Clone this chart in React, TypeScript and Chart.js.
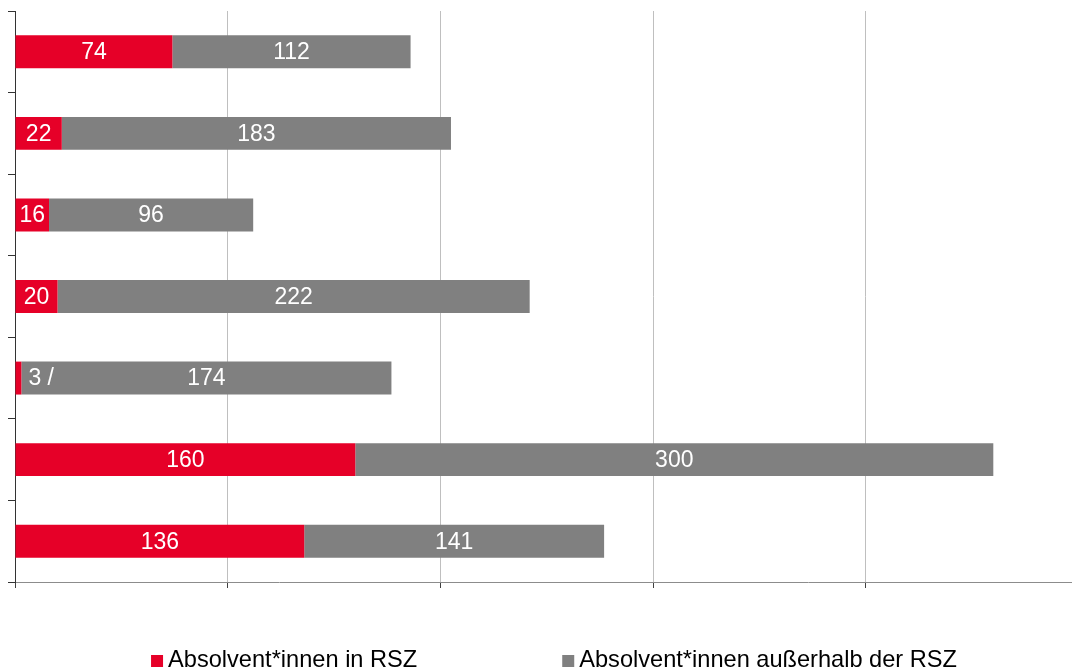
import React, { useEffect, useRef } from "react";
import { Chart, registerables } from "chart.js";

Chart.register(...registerables);

const categories = ["1", "2", "3", "4", "5", "6", "7"];
const insideRSZ = [74, 22, 16, 20, 3, 160, 136];
const outsideRSZ = [112, 183, 96, 222, 174, 300, 141];
const insideLabels = ["74", "22", "16", "20", "3 /", "160", "136"];
const outsideLabels = ["112", "183", "96", "222", "174", "300", "141"];
const seriesNames = ["Absolvent*innen in RSZ", "Absolvent*innen außerhalb der RSZ"];
const xTicks = [0, 100, 200, 300, 400];

const RED = "#e60028";
const GREY = "#808080";
const FONT = "'Liberation Sans', Arial, sans-serif";

const labelPlugin = {
  id: "segLabels",
  afterDatasetsDraw(chart: any) {
    const ctx = chart.ctx;
    ctx.save();
    ctx.font = `23px ${FONT}`;
    ctx.fillStyle = "#ffffff";
    ctx.textBaseline = "middle";
    const labelSets = [insideLabels, outsideLabels];
    chart.data.datasets.forEach((_ds: any, di: number) => {
      const meta = chart.getDatasetMeta(di);
      meta.data.forEach((el: any, i: number) => {
        const txt = labelSets[di][i];
        const w = ctx.measureText(txt).width;
        const segW = Math.abs(el.x - el.base);
        if (segW < w) {
          ctx.textAlign = "left";
          ctx.fillText(txt, el.x + 7, el.y + 1);
        } else {
          ctx.textAlign = "center";
          ctx.fillText(txt, (el.x + el.base) / 2, el.y + 1);
        }
      });
    });
    ctx.restore();
  },
};

const legendPlugin = {
  id: "customLegend",
  afterDraw(chart: any) {
    const ctx = chart.ctx;
    ctx.save();
    ctx.font = `23.6px ${FONT}`;
    ctx.textBaseline = "alphabetic";
    ctx.textAlign = "left";
    const box = 12;
    const gapBox = 5;
    const gapItems = 145;
    const items = chart.data.datasets.map((ds: any) => ({
      label: ds.label,
      color: ds.backgroundColor,
      w: box + gapBox + ctx.measureText(ds.label).width,
    }));
    const total = items.reduce((s: number, it: any) => s + it.w, 0) + gapItems * (items.length - 1);
    let x = chart.width / 2 + 18 - total / 2;
    const baseY = 667;
    items.forEach((it: any) => {
      ctx.fillStyle = it.color;
      ctx.fillRect(x, baseY - 12, box, box);
      ctx.fillStyle = "#000000";
      ctx.fillText(it.label, x + box + gapBox, baseY);
      x += it.w + gapItems;
    });
    ctx.restore();
  },
};

export default function App() {
  const ref = useRef<HTMLCanvasElement | null>(null);
  useEffect(() => {
    if (!ref.current) return;
    const chart = new Chart(ref.current, {
      type: "bar",
      data: {
        labels: categories,
        datasets: [
          { label: seriesNames[0], data: insideRSZ, backgroundColor: RED, borderWidth: 0 },
          { label: seriesNames[1], data: outsideRSZ, backgroundColor: GREY, borderWidth: 0 },
        ],
      },
      options: {
        indexAxis: "y",
        animation: false,
        responsive: false,
        maintainAspectRatio: false,
        layout: { padding: { left: 8, top: 11, right: 0, bottom: 84 } },
        datasets: { bar: { categoryPercentage: 1, barPercentage: 0.404 } },
        plugins: { legend: { display: false }, tooltip: { enabled: false } },
        scales: {
          x: {
            type: "linear",
            stacked: true,
            min: 0,
            max: 497,
            afterBuildTicks: (scale: any) => {
              scale.ticks = xTicks.map((v) => ({ value: v }));
            },
            ticks: { display: false },
            grid: {
              color: "#bfbfbf",
              lineWidth: 1,
              drawTicks: true,
              tickLength: 6,
              tickColor: "#404040",
            },
            border: { display: true, color: "#8c8c8c", width: 1 },
          },
          y: {
            type: "category",
            stacked: true,
            offset: true,
            ticks: { display: false },
            grid: {
              offset: true,
              drawOnChartArea: false,
              drawTicks: true,
              tickLength: 7,
              tickColor: "#333333",
            },
            border: { display: true, color: "#333333", width: 1 },
          },
        },
      },
      plugins: [labelPlugin, legendPlugin],
    } as any);
    return () => chart.destroy();
  }, []);
  return (
    <div style={{ position: "fixed", left: 0, top: 0, width: 1072, height: 672, background: "#fff" }}>
      <canvas ref={ref} width={1072} height={672} style={{ display: "block", width: 1072, height: 672 }} />
    </div>
  );
}
